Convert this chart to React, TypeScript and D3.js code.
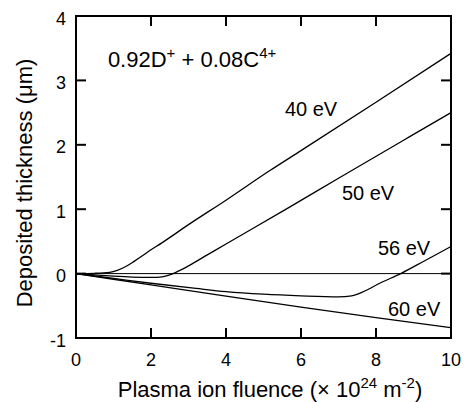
import React from 'react';
import * as d3 from 'd3';

// fluence (x 10^24 m^-2), deposited thickness (um)
const ev40: [number, number][] = [
  [0, 0], [0.5, 0.005], [0.9, 0.02], [1.1, 0.05], [1.33, 0.11], [1.55, 0.19],
  [1.78, 0.28], [2, 0.37], [2.27, 0.47], [3, 0.76], [4, 1.14], [5.17, 1.6],
  [6, 1.91], [8, 2.66], [10, 3.42],
];
const ev50: [number, number][] = [
  [0, 0], [0.5, -0.02], [1, -0.04], [1.5, -0.055], [2, -0.06], [2.3, -0.05],
  [2.5, -0.02], [2.7, 0.03], [3, 0.12], [3.5, 0.29], [4, 0.46],
  [5.57, 0.99], [7, 1.48], [8.91, 2.13], [10, 2.5],
];
const ev56: [number, number][] = [
  [0, 0], [1, -0.075], [2, -0.15], [3.2, -0.23], [4, -0.28], [5, -0.32],
  [6, -0.345], [7, -0.36], [7.35, -0.345], [7.7, -0.27], [8.1, -0.15],
  [8.66, 0], [9.3, 0.2], [10, 0.42],
];
const ev60: [number, number][] = [
  [0, 0], [2, -0.175], [4, -0.35], [6, -0.52], [8, -0.685], [10, -0.84],
];

const curves = [ev40, ev50, ev56, ev60];
const curveLabels = [
  { text: '40 eV', x: 5.57, y: 2.45 },
  { text: '50 eV', x: 7.09, y: 1.14 },
  { text: '56 eV', x: 8.05, y: 0.29 },
  { text: '60 eV', x: 8.32, y: -0.66 },
];

const xTicks = [0, 2, 4, 6, 8, 10];
const yTicks = [-1, 0, 1, 2, 3, 4];

const W = 468;
const H = 402;
const margin = { top: 16, right: 17, bottom: 64, left: 76 };
const font = '"Liberation Sans", Arial, Helvetica, sans-serif';

export default function App() {
  const x = d3.scaleLinear().domain([0, 10]).range([margin.left, W - margin.right]);
  const y = d3.scaleLinear().domain([-1, 4]).range([H - margin.bottom, margin.top]);

  const line = d3
    .line<[number, number]>()
    .x(d => x(d[0]))
    .y(d => y(d[1]))
    .curve(d3.curveMonotoneX);

  const x0 = x(0), x1 = x(10), y0 = y(-1), y1 = y(4);
  const tickLen = 10;

  return (
    <svg
      width={W}
      height={H}
      style={{ position: 'absolute', left: 0, top: 0, background: '#fff', fontFamily: font }}
    >
      {/* zero line */}
      <line x1={x0} x2={x1} y1={y(0)} y2={y(0)} stroke="#000" strokeWidth={1} />

      {curves.map((c, i) => (
        <path key={i} d={line(c) || ''} fill="none" stroke="#000" strokeWidth={1.3} />
      ))}

      {/* inner ticks on all four sides */}
      {xTicks.slice(1, -1).map(t => (
        <g key={'xt' + t}>
          <line x1={x(t)} x2={x(t)} y1={y0} y2={y0 - tickLen} stroke="#000" strokeWidth={2} />
          <line x1={x(t)} x2={x(t)} y1={y1} y2={y1 + tickLen} stroke="#000" strokeWidth={2} />
        </g>
      ))}
      {yTicks.slice(1, -1).map(t => (
        <g key={'yt' + t}>
          <line x1={x0} x2={x0 + tickLen} y1={y(t)} y2={y(t)} stroke="#000" strokeWidth={2} />
          <line x1={x1} x2={x1 - tickLen} y1={y(t)} y2={y(t)} stroke="#000" strokeWidth={2} />
        </g>
      ))}

      {/* frame */}
      <rect x={x0} y={y1} width={x1 - x0} height={y0 - y1} fill="none" stroke="#000" strokeWidth={2} />

      {/* tick labels */}
      {xTicks.map(t => (
        <text key={'xl' + t} x={x(t)} y={y0 + 28} textAnchor="middle" fontSize={18}>
          {t}
        </text>
      ))}
      {yTicks.map(t => (
        <text key={'yl' + t} x={x0 - 10} y={y(t) + 8.5} textAnchor="end" fontSize={18}>
          {t}
        </text>
      ))}

      {/* curve labels */}
      {curveLabels.map(l => (
        <text key={l.text} x={x(l.x)} y={y(l.y)} fontSize={20}>
          {l.text}
        </text>
      ))}

      {/* composition */}
      <text x={x(0.85)} y={y(3.21)} fontSize={22}>
        0.92D
        <tspan dy={-9} fontSize={15}>+</tspan>
        <tspan dy={9}> + 0.08C</tspan>
        <tspan dy={-9} fontSize={15}>4+</tspan>
      </text>

      {/* axis titles */}
      <text x={270} y={397} textAnchor="middle" fontSize={22}>
        Plasma ion fluence (× 10
        <tspan dy={-9} fontSize={15}>24</tspan>
        <tspan dy={9}> m</tspan>
        <tspan dy={-9} fontSize={15}>-2</tspan>
        <tspan dy={9}>)</tspan>
      </text>
      <text transform="translate(32,183) rotate(-90)" textAnchor="middle" fontSize={22}>
        Deposited thickness (μm)
      </text>
    </svg>
  );
}
